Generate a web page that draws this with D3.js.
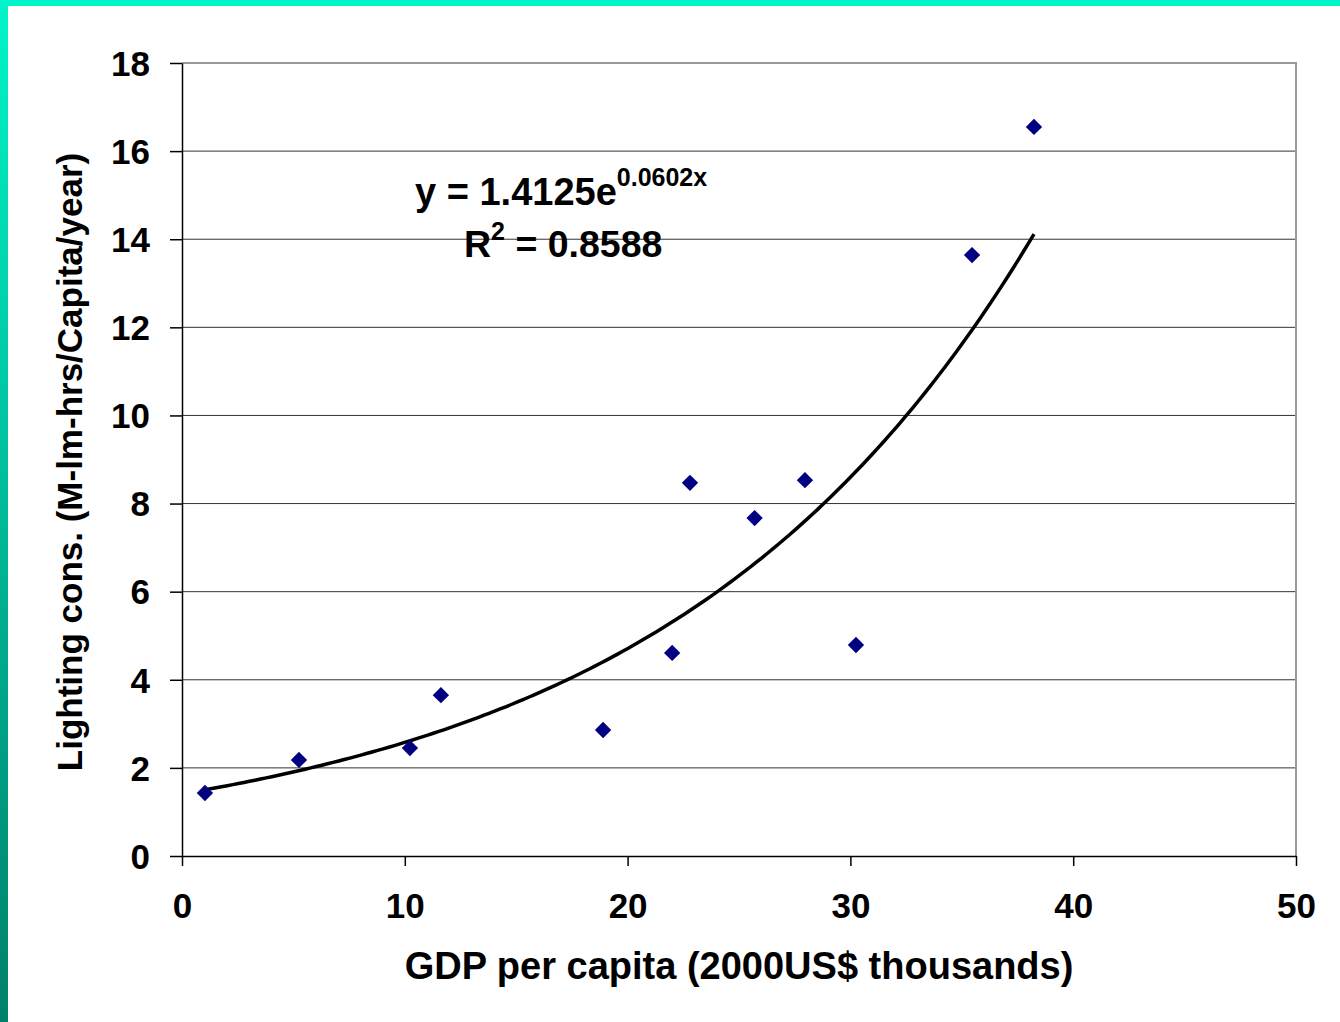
<!DOCTYPE html>
<html lang="en">
<head>
    <style>
        body { margin: 0; background: #fff; }
        svg { display: block; }
        text { font-family: "Liberation Sans", Arial, sans-serif; font-weight: bold; fill: #000; }
    </style>
</head>
<body>
    <svg width="1340" height="1022"></svg>
    <script src="https://cdn.jsdelivr.net/npm/d3@7/dist/d3.min.js"></script>
    <script>
        // GDP per capita (2000US$ thousands) vs lighting consumption
        const gdp = [1.03, 5.25, 10.23, 11.62, 18.9, 22.0, 22.8, 25.7, 27.96, 30.25, 35.46, 38.24];
        const lighting = [1.43, 2.18, 2.45, 3.65, 2.86, 4.61, 8.47, 7.67, 8.53, 4.79, 13.64, 16.55];
        const xTicks = [0, 10, 20, 30, 40, 50];
        const yTicks = [0, 2, 4, 6, 8, 10, 12, 14, 16, 18];
        // exponential trendline y = a * e^(b x)
        const fitA = 1.4125, fitB = 0.0602, fitR2 = 0.8588;

        const svg = d3.select("svg");

        // Frame gradient (teal top bar and left bar)
        const defs = svg.append("defs");
        const grad = defs.append("linearGradient").attr("id", "leftbar")
            .attr("x1", 0).attr("y1", 0).attr("x2", 0).attr("y2", 1);
        grad.append("stop").attr("offset", "0%").attr("stop-color", "#00f5c8");
        grad.append("stop").attr("offset", "100%").attr("stop-color", "#00806a");
        svg.append("rect").attr("x", 0).attr("y", 0).attr("width", 8).attr("height", 1022).attr("fill", "url(#leftbar)");
        svg.append("rect").attr("x", 0).attr("y", 0).attr("width", 1340).attr("height", 6).attr("fill", "#00f5c8");

        const plotLeft = 182, plotRight = 1296, plotTop = 63, plotBottom = 856;
        const x = d3.scaleLinear().domain([0, 50]).range([plotLeft, plotRight]);
        const y = d3.scaleLinear().domain([0, 18]).range([plotBottom, plotTop]);

        // Gridlines
        svg.append("g").selectAll("line").data(yTicks.slice(1)).join("line")
            .attr("x1", plotLeft).attr("x2", plotRight)
            .attr("y1", d => y(d)).attr("y2", d => y(d))
            .attr("stroke", "#333").attr("stroke-width", 1);

        // Top and right frame (gray)
        svg.append("path")
            .attr("d", `M${plotLeft},${plotTop}H${plotRight}V${plotBottom}`)
            .attr("fill", "none").attr("stroke", "#999").attr("stroke-width", 2);

        // Axes
        const xAxis = svg.append("g").attr("transform", `translate(0,${plotBottom})`)
            .call(d3.axisBottom(x).tickValues(xTicks).tickSize(10).tickPadding(27).tickSizeOuter(0));
        const yAxis = svg.append("g").attr("transform", `translate(${plotLeft},0)`)
            .call(d3.axisLeft(y).tickValues(yTicks).tickSize(12).tickPadding(20).tickSizeOuter(0));
        [xAxis, yAxis].forEach(g => {
            g.select(".domain").attr("stroke", "#000").attr("stroke-width", 1.5);
            g.selectAll(".tick line").attr("stroke", "#000").attr("stroke-width", 1.5);
            g.selectAll(".tick text").attr("font-size", 35).attr("font-family", "Liberation Sans, Arial, sans-serif")
                .attr("font-weight", "bold").attr("fill", "#000");
        });
        yAxis.selectAll(".tick text").attr("dy", "0.35em");

        // Trendline, from first to last x value
        const xMin = d3.min(gdp), xMax = d3.max(gdp);
        const xs = d3.range(xMin, xMax, 0.25).concat([xMax]);
        const line = d3.line().x(d => x(d)).y(d => y(fitA * Math.exp(fitB * d)));
        svg.append("path").datum(xs)
            .attr("d", line)
            .attr("fill", "none").attr("stroke", "#000").attr("stroke-width", 3.5);

        // Points (diamonds)
        const sym = d3.symbol().type(d3.symbolDiamond2).size(170);
        svg.append("g").selectAll("path").data(gdp).join("path")
            .attr("transform", (d, i) => `translate(${x(d)},${y(lighting[i])})`)
            .attr("d", sym)
            .attr("fill", "#000080");

        // Equation
        const eq = svg.append("text").attr("x", 415).attr("y", 205).attr("font-size", 38);
        eq.append("tspan").text(`y = ${fitA}e`);
        eq.append("tspan").attr("font-size", 25).attr("dy", -19).text(`${fitB}x`);
        const r2 = svg.append("text").attr("x", 464).attr("y", 257).attr("font-size", 37.5);
        r2.append("tspan").text("R");
        r2.append("tspan").attr("font-size", 25).attr("dy", -17).text("2");
        r2.append("tspan").attr("dy", 17).text(` = ${fitR2}`);

        // Axis titles
        svg.append("text").attr("x", 739).attr("y", 979).attr("text-anchor", "middle")
            .attr("font-size", 38).text("GDP per capita (2000US$ thousands)");
        svg.append("text").attr("transform", "translate(82,462) rotate(-90)").attr("text-anchor", "middle")
            .attr("font-size", 35).text("Lighting cons. (M-lm-hrs/Capita/year)");
    </script>
</body>
</html>
